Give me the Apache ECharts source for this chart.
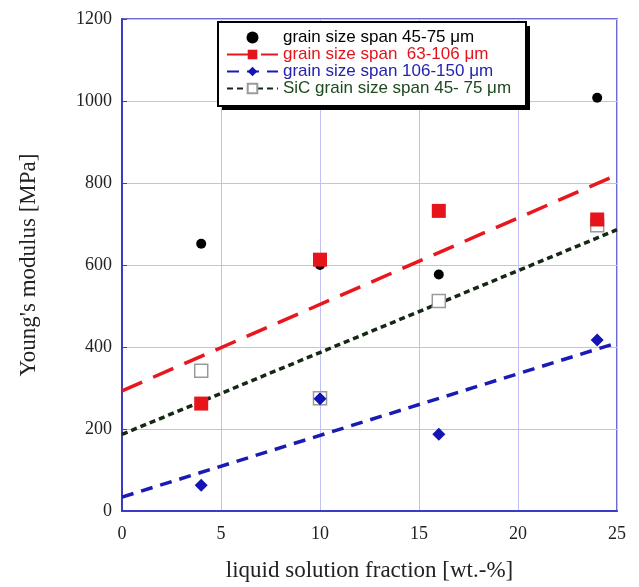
<!DOCTYPE html>
<html>
<head>
<meta charset="utf-8">
<script src="https://cdn.jsdelivr.net/npm/echarts@6/dist/echarts.min.js"></script>
<style>
  html, body { margin: 0; padding: 0; background: #fff; }
  #chart { width: 639px; height: 587px; }
</style>
</head>
<body>
<div id="chart"></div>
<script>
// liquid solution fraction [wt.-%]
const fractions = [4, 10, 16, 24];
// Young's modulus [MPa] per grain size span
const modulus45to75 = [652, 600, 577, 1008];
const modulus63to106 = [262, 613, 732, 711];
const modulus106to150 = [63, 274, 187, 417];
const modulusSiC = [342, 275, 512, 697];
// fitted trend lines, read at x = 0 and x = 25
const trendX = [0, 25];
const trend63to106 = [293, 820];
const trend106to150 = [34, 410];
const trendSiC = [187, 686];

const names = [
  'grain size span 45-75 μm',
  'grain size span  63-106 μm',
  'grain size span 106-150 μm',
  'SiC grain size span 45- 75 μm'
];
const textColors = ['#000', '#e3141b', '#2323b0', '#1d4a1d'];

const pairs = (xs, ys) => xs.map((x, i) => [x, ys[i]]);

const axisBlue = '#3b3bc6';
const gridBlue = '#c0c0f2';
const serif = 'Liberation Serif';

const chart = echarts.init(document.getElementById('chart'));

// legend frame: black drop shadow block + white box with black border
const box = { x: 218, y: 22, w: 308, h: 84 };

const option = {
  animation: false,
  grid: {
    left: 122, right: 22, top: 19, bottom: 73,
    show: true, borderColor: axisBlue, borderWidth: 1.5
  },
  graphic: [
    { type: 'rect', z: 90, shape: { x: box.x + 4, y: box.y + 4, width: box.w, height: box.h },
      style: { fill: '#000' } },
    { type: 'rect', z: 91, shape: { x: box.x, y: box.y, width: box.w, height: box.h },
      style: { fill: '#fff', stroke: '#000', lineWidth: 2 } }
  ],
  legend: {
    orient: 'vertical',
    left: 218, top: 22, z: 100,
    padding: [7, 12, 7, 8],
    itemWidth: 51, itemHeight: 12, itemGap: 0,
    textStyle: { fontFamily: 'Liberation Sans', fontSize: 17, lineHeight: 17 },
    data: names.map((n, i) => ({ name: n, textStyle: { color: textColors[i] } }))
  },
  xAxis: {
    type: 'value', min: 0, max: 25, interval: 5,
    name: 'liquid solution fraction [wt.-%]',
    nameLocation: 'middle', nameGap: 48,
    nameTextStyle: { fontFamily: serif, fontSize: 23, color: '#222' },
    axisLine: { lineStyle: { color: axisBlue, width: 2 } },
    axisTick: { show: false },
    axisLabel: { fontFamily: serif, fontSize: 18, color: '#222', margin: 14 },
    splitLine: { lineStyle: { color: gridBlue, width: 1 } }
  },
  yAxis: {
    type: 'value', min: 0, max: 1200, interval: 200,
    name: "Young's modulus [MPa]",
    nameLocation: 'middle', nameGap: 82,
    nameTextStyle: { fontFamily: serif, fontSize: 23, color: '#222' },
    axisLine: { show: true, lineStyle: { color: axisBlue, width: 2 } },
    axisTick: { show: true, inside: true, length: 5, lineStyle: { color: axisBlue } },
    axisLabel: { fontFamily: serif, fontSize: 18, color: '#222', margin: 10, formatter: v => String(v) },
    splitLine: { lineStyle: { color: gridBlue, width: 1 } }
  },
  series: [
    {
      name: names[1], type: 'line', data: pairs(trendX, trend63to106),
      symbol: 'rect', showSymbol: false, z: 2,
      itemStyle: { color: '#e3141b' },
      lineStyle: { color: '#e8161d', width: 3.5, type: [22, 12] }
    },
    {
      name: names[2], type: 'line', data: pairs(trendX, trend106to150),
      symbol: 'diamond', showSymbol: false, z: 2,
      itemStyle: { color: '#1414b4' },
      lineStyle: { color: '#1a1ab4', width: 3.5, type: [12, 8] }
    },
    {
      name: names[3], type: 'line', data: pairs(trendX, trendSiC),
      symbol: 'emptyRect', showSymbol: false, z: 2,
      itemStyle: { color: '#9a9a9a' },
      lineStyle: { color: '#142814', width: 3.5, type: [6, 4] }
    },
    {
      name: names[0], type: 'scatter', data: pairs(fractions, modulus45to75),
      symbol: 'circle', symbolSize: 10, z: 3,
      itemStyle: { color: '#000', opacity: 1 }
    },
    {
      name: names[1], type: 'scatter', data: pairs(fractions, modulus63to106),
      symbol: 'rect', symbolSize: 14, z: 4,
      itemStyle: { color: '#e8141c', opacity: 1 }
    },
    {
      name: names[2], type: 'scatter', data: pairs(fractions, modulus106to150),
      symbol: 'diamond', symbolSize: 13, z: 5,
      itemStyle: { color: '#1414b4', opacity: 1 }
    },
    {
      name: names[3], type: 'scatter', data: pairs(fractions, modulusSiC),
      symbol: 'rect', symbolSize: 13, z: 3,
      itemStyle: { color: '#fff', borderColor: '#9a9a9a', borderWidth: 1.5, opacity: 1 }
    }
  ]
};

chart.setOption(option);
</script>
</body>
</html>
